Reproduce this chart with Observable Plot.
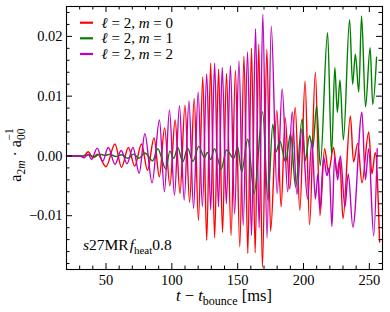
<!DOCTYPE html>
<html><head><meta charset="utf-8">
<script src="https://cdn.jsdelivr.net/npm/d3@7"></script>
<script src="https://cdn.jsdelivr.net/npm/@observablehq/plot@0.6"></script>
<style>
html,body{margin:0;padding:0;background:#fff;}
#chart{width:390px;height:312px;}
</style></head><body><div id="chart"></div>
<script>
// ---- data ----
const tRed = [20,33,36.5,40,43.5,50,56.8,61.8,67,71.8,77,81.5,86.5,90.5,94.5,98.5,102.5,106.2,110,113.5,117,120.2,123.5,126.5,129.5,132.5,135.5,138.5,141.5,145,148.3,151.6,154.8,157.7,160.5,163.3,166,168.8,172.2,175,179.8,183,186.1,189.5,193.7,197.2,201.2,204.6,209,212.5,216,219,222.8,225.5,227.5,230,235.6,238,241.2,244.4,249.5,252,254.5,257.8];
const vRed = [0,0,0.0007,-0.0003,0.0003,-0.0018,0.002,-0.0019,0.0014,-0.0017,0.002,-0.0024,0.003,-0.0035,0.0047,-0.005,0.006,-0.0063,0.0085,-0.0078,0.0096,-0.0108,0.0132,-0.0141,0.0155,-0.0137,0.0145,-0.0128,0.0138,-0.0133,0.0143,-0.0152,0.0167,-0.0163,0.018,-0.0162,0.0187,-0.0186,0.0178,-0.0126,0.0076,-0.0085,0.0064,-0.0055,0.0081,-0.0091,0.0125,-0.0115,0.014,-0.01,0.0012,-0.0027,0.0014,-0.003,-0.0005,-0.0105,0.0067,-0.001,0.0021,-0.0045,0.004,-0.003,0.0006,-0.0144];

const tGreen = [20,33,37,41,45,49.5,53,57.5,62,66.5,71,75,79.5,85.5,89.3,95.5,98.5,101.5,104.5,108.3,112,116,120.5,124.8,127,129.5,132.4,137.5,141.5,147,150,153,157.7,162.5,169,173,176.7,179,182,186.4,190.2,194,199,201.3,204.6,207,210,212.7,218.3,221.3,223.8,225.7,227.7,230.3,235,237.3,239.4,242,244.1,247.1,250.6,252.6,255.5];
const vGreen = [0,0,0.0002,-0.0002,0.0003,0.0001,0.0003,-0.0001,0.0002,-0.0004,0.0003,-0.0004,0.0005,-0.0008,0.0012,-0.0022,0.0008,-0.0004,0.0014,-0.001,0.0013,-0.0009,0.0016,-0.0003,0.0006,-0.0006,0.0012,-0.0022,0.001,-0.0004,0.0015,-0.0027,0.0028,-0.0063,0.0074,-0.0074,0.0053,0.0006,0.0025,-0.001,0.0037,-0.0052,0.0062,-0.0008,0.0034,0.0012,0.0084,-0.0016,0.0206,0.0003,0.0148,0.0073,0.0127,0.0027,0.0228,0.012,0.017,0.0107,0.0234,0.0082,0.0181,0.0086,0.0165];

const tMag = [20,30,33.5,36.5,39,43.3,47.5,51.7,56.8,61.5,66,70.5,75.2,79.5,85,90.6,94.4,98.2,102,105.8,109.4,113,116.5,120,123.2,126.5,129.5,132.5,135.4,138.3,141.4,144.5,147.7,151,154.2,157.5,160.5,163.6,166.3,169.1,172.3,175.5,180,183.8,188,191.4,195,198.8,203.1,206.4,209,211,212.5,215.3,217.8,219.5,221.6,223.6,226,228,231.5,234,237.5,244.4,247,249.5,253.3,256];
const vMag = [0,0,-0.0003,0.0003,-0.0006,0.0013,-0.0009,0.0014,-0.0014,0.0009,-0.0013,0.0014,-0.0029,0.0037,-0.0045,0.006,-0.006,0.0077,-0.0066,0.0084,-0.0074,0.0092,-0.0088,0.0107,-0.0085,0.0137,-0.009,0.0155,-0.0085,0.0148,-0.008,0.0151,-0.0097,0.0159,-0.0116,0.0174,-0.0133,0.0213,-0.012,0.0237,-0.0138,0.0217,-0.0063,0.0112,-0.006,0.0074,-0.0064,0.0045,-0.0072,0.0026,-0.0072,-0.003,-0.009,-0.0002,-0.0033,-0.002,-0.0118,-0.0002,-0.004,0.0,-0.0085,-0.003,-0.0119,0.0073,-0.004,0.0012,-0.0133,0.0012];

const xMajor = [50,100,150,200,250];
const xMinor = [30,40,60,70,80,90,110,120,130,140,160,170,180,190,210,220,230,240];
const yMajor = [-0.01,0,0.01,0.02];
const yMinor = [-0.018,-0.016,-0.014,-0.012,-0.008,-0.006,-0.004,-0.002,0.002,0.004,0.006,0.008,0.012,0.014,0.016,0.018,0.022,0.024];
const seriesM = ["0","1","2"];
const colors = ["#ff0000","#008000","#c000c0"];

// ---- build ----
const toRows = (ts, vs) => ts.map((t,i)=>({t, v: vs[i]}));
const red = toRows(tRed, vRed), green = toRows(tGreen, vGreen), mag = toRows(tMag, vMag);

const W=390, H=312, mL=66, mR=8, mT=6, mB=43;
const innerW = W-mL-mR, innerH = H-mT-mB;
const FONT = "'Liberation Serif','DejaVu Serif',serif";
const majL = 6, minL = 3.5;

const lineOpts = (c) => ({x:"t", y:"v", stroke:c, strokeWidth:1.4, curve:"monotone-x"});

const plot = Plot.plot({
  width:W, height:H, marginLeft:mL, marginRight:mR, marginTop:mT, marginBottom:mB,
  x:{domain:[20,260]},
  y:{domain:[-0.019,0.025]},
  style:{fontFamily:FONT, fontSize:"14.5px", background:"white", color:"black"},
  marks:[
    Plot.line(red, lineOpts(colors[0])),
    Plot.line(green, lineOpts(colors[1])),
    Plot.line(mag, lineOpts(colors[2])),
    Plot.tickX(xMajor, {x:d=>d, insetTop:innerH-majL, stroke:"black"}),
    Plot.tickX(xMajor, {x:d=>d, insetBottom:innerH-majL, stroke:"black"}),
    Plot.tickX(xMinor, {x:d=>d, insetTop:innerH-minL, stroke:"black"}),
    Plot.tickX(xMinor, {x:d=>d, insetBottom:innerH-minL, stroke:"black"}),
    Plot.tickY(yMajor, {y:d=>d, insetRight:innerW-majL, stroke:"black"}),
    Plot.tickY(yMajor, {y:d=>d, insetLeft:innerW-majL, stroke:"black"}),
    Plot.tickY(yMinor, {y:d=>d, insetRight:innerW-minL, stroke:"black"}),
    Plot.tickY(yMinor, {y:d=>d, insetLeft:innerW-minL, stroke:"black"}),
    Plot.frame({stroke:"black", strokeWidth:1.1}),
    Plot.axisX(xMajor, {tickSize:0, tickPadding:5, label:null, fontSize:14.5}),
    Plot.axisY(yMajor, {tickSize:0, tickPadding:4, label:null, fontSize:14.5, tickFormat:d3.format(".2f")})
  ]
});
document.getElementById("chart").appendChild(plot);

const svg = d3.select(plot);
const g = svg.append("g").attr("font-family", FONT).attr("fill","black").attr("text-anchor","start");

// x label
const xl = g.append("text").attr("x", mL+innerW/2).attr("y", 301).attr("text-anchor","middle").attr("font-size",16.5);
xl.append("tspan").attr("font-style","italic").text("t");
xl.append("tspan").text(" − ");
xl.append("tspan").attr("font-style","italic").text("t");
xl.append("tspan").attr("font-size",12).attr("dy",3.5).text("bounce");
xl.append("tspan").attr("dy",-3.5).text(" [ms]");

// y label
const yl = g.append("text").attr("transform","translate(21,155) rotate(-90)").attr("text-anchor","middle").attr("font-size",16);
yl.append("tspan").text("a");
yl.append("tspan").attr("font-size",11.5).attr("dy",3.5).text("2");
yl.append("tspan").attr("font-size",11.5).attr("font-style","italic").text("m");
yl.append("tspan").attr("dy",-3.5).text(" · a");
yl.append("tspan").attr("font-size",11.5).attr("dy",3.5).text("00");
yl.append("tspan").attr("font-size",11.5).attr("dx",-12).attr("dy",-12).text("−1");

// legend
const rows = [22.7, 38.3, 54];
seriesM.forEach((m,i)=>{
  g.append("line").attr("x1",80).attr("x2",93).attr("y1",rows[i]).attr("y2",rows[i])
    .attr("stroke",colors[i]).attr("stroke-width",2.2);
  const t = g.append("text").attr("x",101.5).attr("y",rows[i]+5).attr("font-size",15);
  t.append("tspan").attr("font-style","italic").text("ℓ");
  t.append("tspan").text(" = 2, ");
  t.append("tspan").attr("font-style","italic").text("m");
  t.append("tspan").text(" = " + m);
});

// annotation
const an = g.append("text").attr("x",83).attr("y",250).attr("font-size",15.5);
an.append("tspan").attr("font-style","italic").text("s");
an.append("tspan").text("27MR");
an.append("tspan").attr("font-style","italic").attr("dx",1).text("f");
an.append("tspan").attr("font-size",11).attr("dy",3.5).text("heat");
an.append("tspan").attr("dy",-3.5).text("0.8");
</script>
</body></html>
